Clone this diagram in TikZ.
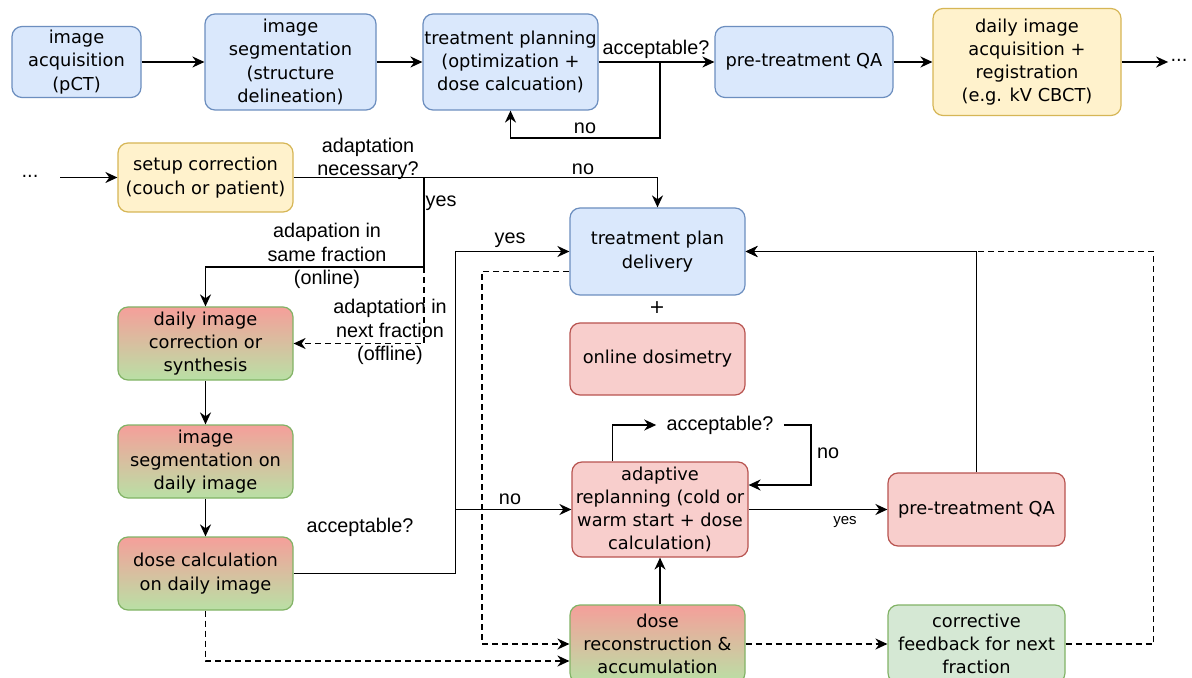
\documentclass[tikz,border=0pt]{standalone}
\usepackage{fontspec}
\usepackage{tikz}
\usetikzlibrary{arrows.meta,calc}
\newfontfamily\boxfont{DejaVu Sans}
\newfontfamily\labfont{Liberation Sans}
\definecolor{blf}{HTML}{DAE8FC}
\definecolor{bld}{HTML}{6C8EBF}
\definecolor{gef}{HTML}{FFF2CC}
\definecolor{ged}{HTML}{D6B656}
\definecolor{rof}{HTML}{F8CECC}
\definecolor{rod}{HTML}{B85450}
\definecolor{grf}{HTML}{D5E8D4}
\definecolor{grd}{HTML}{82B366}
\definecolor{gtop}{HTML}{F59F9A}
\definecolor{gbot}{HTML}{B9E0A5}

\begin{document}
\begin{tikzpicture}[x=0.5pt,y=-0.5pt,
  box/.style={draw,rounded corners=5pt,line width=0.6pt,align=center,inner sep=0pt,
    font=\boxfont\fontsize{8.9}{11.6}\selectfont},
  bl/.style={box,fill=blf,draw=bld},
  ge/.style={box,fill=gef,draw=ged},
  ro/.style={box,fill=rof,draw=rod},
  gr/.style={box,fill=grf,draw=grd},
  grad/.style={box,top color=gtop,bottom color=gbot,draw=grd},
  lab/.style={font=\labfont\fontsize{9.9}{11.7}\selectfont,align=center,inner sep=1pt},
  arr/.style={-{Stealth[length=6pt,width=5.5pt]},line width=0.85pt},
  dsh/.style={arr,dash pattern=on 3pt off 2pt}]
  \useasboundingbox (0,0) rectangle (1192,678);
  \fill[white] (0,0) rectangle (1192,678);
  \clip (0,0) rectangle (1192,678);

  % top row
  \node[bl,minimum width=64.5pt,minimum height=35.5pt] (acq) at (76.5,62) {image\\acquisition\\(pCT)};
  \node[bl,minimum width=85.5pt,minimum height=48pt] (seg) at (290.5,62) {image\\segmentation\\(structure\\delineation)};
  \node[bl,minimum width=87.5pt,minimum height=48pt] (plan) at (510.5,62) {treatment planning\\(optimization +\\dose calcuation)};
  \node[bl,minimum width=89pt,minimum height=35.5pt] (qa) at (804,62) {pre-treatment QA};
  \node[ge,minimum width=94pt,minimum height=53.5pt] (daily) at (1027,62) {daily image\\acquisition +\\registration\\(e.g. kV CBCT)};
  \node[font=\boxfont\fontsize{8.9}{11.6}\selectfont,inner sep=1pt] (dots1) at (1179,60) {...};

  \draw[arr] (acq) -- (seg);
  \draw[arr] (seg) -- (plan);
  \draw[arr] (plan) -- (qa);
  \node[lab] at (656,49) {acceptable?};
  \coordinate (accq) at (660,62);
  \draw[arr] (accq) -- ++(0,76) -| (plan.south);
  \node[lab] at (585,128) {no};
  \draw[arr] (qa) -- (daily);
  \draw[arr] (daily.east) -- (dots1.west |- daily.east);

  % left
  \node[font=\boxfont\fontsize{8.9}{11.6}\selectfont,inner sep=1pt] (dots2) at (30,176) {...};
  \coordinate (in2) at (60,177.5);
  \node[ge,minimum width=87.5pt,minimum height=34.5pt] (setup) at (205.5,177.5) {setup correction\\(couch or patient)};
  \node[grad,minimum width=87.5pt,minimum height=36.5pt] (corr) at (205.5,343.5) {daily image\\correction or\\synthesis};
  \node[grad,minimum width=87.5pt,minimum height=36.5pt] (segd) at (205.5,461.5) {image\\segmentation on\\daily image};
  \node[grad,minimum width=87.5pt,minimum height=36.5pt] (dcalc) at (205.5,573.5) {dose calculation\\on daily image};

  \draw[arr] (in2) -- (setup);
  \node[lab] at (368,159) {adaptation\\necessary?};
  \node[lab] at (583,169) {no};
  \coordinate (yb) at (424,177.5);
  \coordinate (yb2) at (424,267);
  \draw[arr] (yb) -- (yb2) -| (corr.north);
  \node[lab] at (441,203) {yes};
  \node[lab] at (327,256) {adapation in\\same fraction\\(online)};
  \draw[dsh] (yb2) |- (corr.east);
  \node[lab] at (390,332) {adaptation in\\next fraction\\(offline)};
  \draw[arr] (corr) -- (segd);
  \draw[arr] (segd) -- (dcalc);
  \node[lab] at (360,527) {acceptable?};

  % middle
  \node[bl,minimum width=87.5pt,minimum height=43.5pt] (deliv) at (657.5,251.5) {treatment plan\\delivery};
  \node[font=\boxfont\fontsize{9.5}{11}\selectfont] (plus) at (657,308) {+};
  \node[ro,minimum width=87.5pt,minimum height=36pt] (dosim) at (657.5,359) {online dosimetry};
  \node[ro,minimum width=88pt,minimum height=47.5pt] (adapt) at (660,509.5) {adaptive\\replanning (cold or\\warm start + dose\\calculation)};
  \node[grad,minimum width=87.5pt,minimum height=39pt] (recon) at (657.5,644) {dose\\reconstruction \&\\accumulation};
  \node[lab,inner sep=5pt] (acc2) at (720,425) {acceptable?};

  \draw[arr] (setup.east) -| (deliv.north);
  \draw[arr] (dcalc.east) -- ++(162,0) |- (deliv.west);
  \node[lab] at (510,240) {yes};
  \coordinate (nb) at (455,509.5);
  \draw[arr] (nb) -- (adapt.west);
  \node[lab] at (510,499) {no};
  \draw[dsh] (dcalc.south) |- ($(recon.west)+(0,17)$);
  \coordinate (dl) at (482,271.5);
  \draw[dsh] ($(deliv.west)+(0,20)$) -- (dl) |- (recon.west);
  \draw[arr] (adapt.south |- recon.north) -- (adapt.south);
  \draw[arr] ($(adapt.north west)+(41,0)$) |- (acc2.west);
  \draw[arr] (acc2.east) -- ++(27,0) |- ($(adapt.east)+(0,-24.5)$);
  \node[lab] at (828,453) {no};

  % right
  \node[ro,minimum width=88.5pt,minimum height=36.5pt] (qa2) at (976.5,509.5) {pre-treatment QA};
  \node[gr,minimum width=88.5pt,minimum height=39pt] (fb) at (976.5,644) {corrective\\feedback for next\\fraction};

  \draw[arr] (adapt) -- (qa2);
  \node[lab,font=\labfont\fontsize{7.5}{9}\selectfont] at (845,522) {yes};
  \draw[arr] (qa2.north) |- (deliv.east);
  \draw[dsh] (recon) -- (fb);
  \draw[dsh] (fb.east) -- ++(88,0) |- (deliv.east);
\end{tikzpicture}
\end{document}
